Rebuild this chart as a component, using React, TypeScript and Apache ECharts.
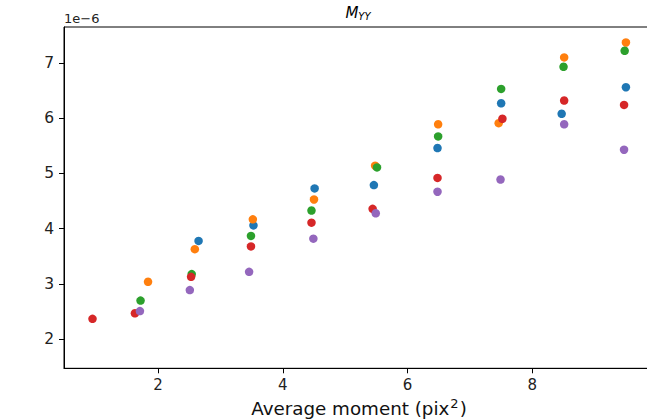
import React, { useEffect, useRef } from "react";
import * as echarts from "echarts";

// values of y are in units of 1e-6
const blueX = [2.65, 3.53, 4.51, 5.46, 6.48, 7.5, 8.47, 9.5];
const blueY = [3.78, 4.06, 4.73, 4.79, 5.46, 6.27, 6.08, 6.56];
const orangeX = [1.84, 2.59, 3.52, 4.5, 5.48, 6.49, 7.46, 8.51, 9.5];
const orangeY = [3.04, 3.63, 4.17, 4.53, 5.14, 5.89, 5.91, 7.1, 7.37];
const greenX = [1.72, 2.54, 3.49, 4.46, 5.51, 6.49, 7.5, 8.5, 9.48];
const greenY = [2.7, 3.18, 3.87, 4.33, 5.11, 5.67, 6.53, 6.93, 7.22];
const redX = [0.95, 1.63, 2.53, 3.49, 4.46, 5.44, 6.48, 7.52, 8.51, 9.47];
const redY = [2.37, 2.47, 3.13, 3.68, 4.11, 4.36, 4.92, 5.99, 6.32, 6.24];
const purpleX = [1.71, 2.51, 3.46, 4.49, 5.49, 6.48, 7.49, 8.51, 9.47];
const purpleY = [2.51, 2.89, 3.22, 3.82, 4.28, 4.67, 4.89, 5.89, 5.43];

const xTicks = [2, 4, 6, 8];
const yTicks = [2, 3, 4, 5, 6, 7];
const seriesColors = ["#1f77b4", "#ff7f0e", "#2ca02c", "#d62728", "#9467bd"];
const allX = [blueX, orangeX, greenX, redX, purpleX];
const allY = [blueY, orangeY, greenY, redY, purpleY];

const FONT = "DejaVu Sans";

export default function App() {
  const ref = useRef<HTMLDivElement>(null);
  useEffect(() => {
    if (!ref.current) return;
    const chart = echarts.init(ref.current, undefined, { renderer: "svg" });
    chart.setOption({
      animation: false,
      grid: {
        left: 64,
        right: 16,
        top: 27,
        bottom: 51.7,
        show: true,
        borderColor: "#000",
        borderWidth: 1,
        containLabel: false,
        outerBoundsMode: "none",
      },
      xAxis: {
        type: "value",
        min: 0.493,
        max: 9.95,
        name: "{a|Average moment (pix}{sup|2}{a|)}",
        nameLocation: "middle",
        nameGap: 28,
        nameTextStyle: {
          fontFamily: FONT,
          fontSize: 18.3,
          color: "#111",
          rich: {
            a: { fontFamily: FONT, fontSize: 18.3, color: "#111", lineHeight: 22 },
            sup: {
              fontFamily: FONT,
              fontSize: 13,
              color: "#111",
              verticalAlign: "top",
              lineHeight: 14,
              padding: [0, 1, 0, 1],
            },
          },
        },
        splitLine: { show: false },
        axisLine: { lineStyle: { color: "#000" } },
        axisTick: { length: 5, lineStyle: { color: "#000" }, customValues: xTicks },
        axisLabel: {
          customValues: xTicks,
          fontFamily: FONT,
          fontSize: 15,
          color: "#222",
          margin: 9,
        },
      },
      yAxis: {
        type: "value",
        min: 1.475,
        max: 7.65,
        splitLine: { show: false },
        axisLine: { show: true, lineStyle: { color: "#000" } },
        axisTick: { show: true, length: 5, lineStyle: { color: "#000" }, customValues: yTicks },
        axisLabel: {
          customValues: yTicks,
          fontFamily: FONT,
          fontSize: 15.5,
          color: "#222",
          margin: 10,
        },
      },
      graphic: [
        {
          type: "text",
          x: 64,
          y: 18,
          style: {
            text: "1e−6",
            font: `13px '${FONT}'`,
            fill: "#222",
            textAlign: "left",
            textVerticalAlign: "middle",
          },
        },
        {
          type: "text",
          x: 358,
          y: 13,
          style: {
            text: "{m|M}{s|YY}",
            textAlign: "center",
            textVerticalAlign: "middle",
            rich: {
              m: { fontFamily: FONT, fontStyle: "italic", fontSize: 15, fill: "#000", color: "#000" },
              s: {
                fontFamily: FONT,
                fontStyle: "italic",
                fontSize: 10,
                fill: "#000",
                color: "#000",
                verticalAlign: "bottom",
                padding: [6, 0, 0, 0],
              },
            },
          },
        },
      ],
      series: allX.map((xs, i) => ({
        type: "scatter",
        symbol: "circle",
        symbolSize: 8.5,
        itemStyle: { color: seriesColors[i], opacity: 1 },
        data: xs.map((x, j) => [x, allY[i][j]]),
      })),
    });
    return () => chart.dispose();
  }, []);
  return (
    <div
      style={{
        position: "absolute",
        left: 0,
        top: 0,
        width: 647,
        height: 420,
        overflow: "hidden",
        background: "#fff",
      }}
    >
      <div ref={ref} style={{ width: 670, height: 420 }} />
    </div>
  );
}
